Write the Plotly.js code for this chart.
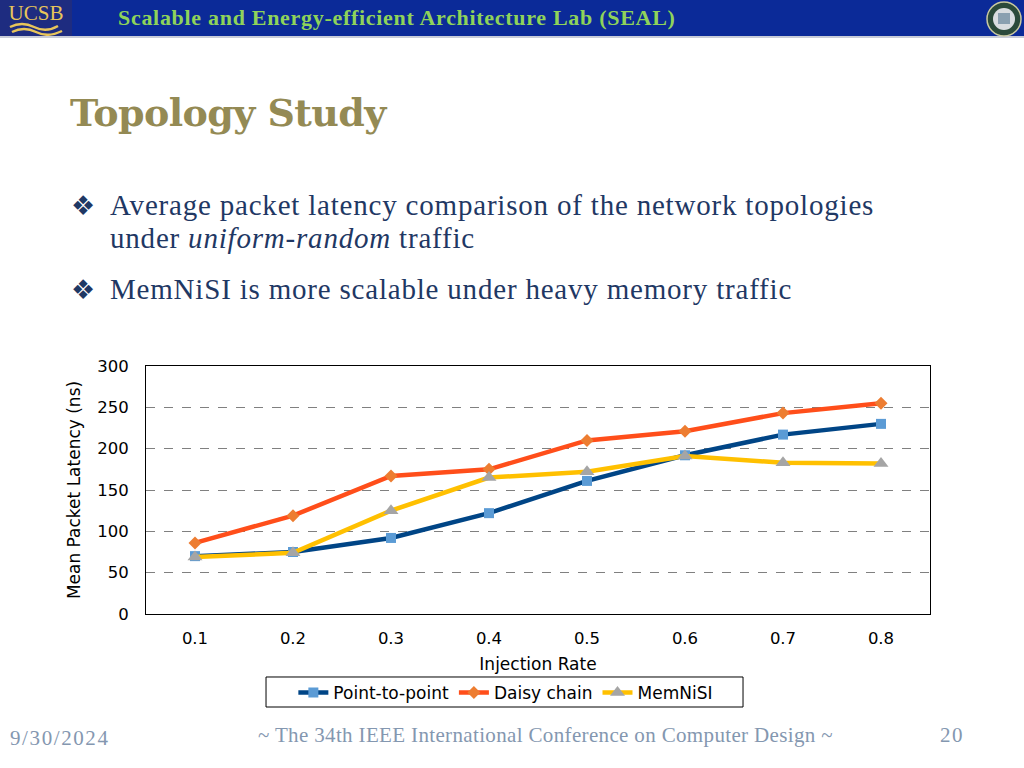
<!DOCTYPE html>
<html>
<head>
<meta charset="utf-8">
<script src="https://cdn.plot.ly/plotly-3.0.1.min.js"></script>
<style>
  html, body { margin:0; padding:0; width:1024px; height:768px; overflow:hidden; background:#ffffff; }
  #chart { position:absolute; left:0; top:0; width:1024px; height:768px; }
  .ov { position:absolute; white-space:nowrap; pointer-events:none; }
  #hdr { position:absolute; left:0; top:0; width:1024px; height:36px; background:#0b2a98; border-bottom:2px solid #c8ccd8; }
  #ucsb { position:absolute; left:0; top:0; width:72px; height:36px; background:#1e2c80; }
  #hdrtxt { left:118px; top:5px; font-family:"Liberation Serif", serif; font-weight:bold; font-size:22px; letter-spacing:0.7px; color:#8fd35a; }
  #title { left:70px; top:90px; font-family:"DejaVu Serif", serif; font-weight:bold; font-size:38px; color:#948a54; letter-spacing:-0.6px; }
  .bul { font-family:"Liberation Serif", serif; font-size:29px; letter-spacing:0.8px; color:#1f3864; }
  .dia { font-family:"DejaVu Sans", sans-serif; font-size:27px; color:#1f3864; }
  .foot { font-family:"Liberation Serif", serif; font-size:21px; color:#8497b0; }
</style>
</head>
<body>
<div id="chart"></div>
<div id="hdr"></div>
<div id="ucsb">
  <svg width="72" height="36" viewBox="0 0 72 36">
    <text x="36" y="20" text-anchor="middle" font-family="Liberation Serif" font-size="21" fill="#e8c55a">UCSB</text>
    <path d="M10 27 Q22 21 34 27 T58 26" stroke="#e8c55a" stroke-width="2.5" fill="none"/>
    <path d="M12 32 Q24 26 36 32 T62 31" stroke="#e8c55a" stroke-width="2.5" fill="none"/>
  </svg>
</div>
<svg class="ov" style="left:986px;top:0px" width="36" height="40" viewBox="0 0 36 40">
  <circle cx="18" cy="19" r="17" fill="#2b4a3a" stroke="#c9c9a0" stroke-width="1.5"/>
  <circle cx="18" cy="19" r="11" fill="#d9dde0"/>
  <rect x="12" y="13" width="12" height="11" fill="#8aa0b0"/>
</svg>
<div class="ov" id="hdrtxt">Scalable and Energy-efficient Architecture Lab (SEAL)</div>
<div class="ov" id="title">Topology Study</div>

<div class="ov dia" style="left:71px;top:190px">❖</div>
<div class="ov bul" style="left:110px;top:189px">Average packet latency comparison of the network topologies</div>
<div class="ov bul" style="left:110px;top:222px">under <i>uniform-random</i> traffic</div>
<div class="ov dia" style="left:71px;top:274px">❖</div>
<div class="ov bul" style="left:110px;top:273px">MemNiSI is more scalable under heavy memory traffic</div>

<div class="ov foot" style="left:10px;top:726px;letter-spacing:1.6px">9/30/2024</div>
<div class="ov foot" style="left:258px;top:723px;letter-spacing:0.35px">~ The 34th IEEE International Conference on Computer Design ~</div>
<div class="ov foot" style="left:940px;top:723px;letter-spacing:1.5px">20</div>

<script>
const categories = ["0.1", "0.2", "0.3", "0.4", "0.5", "0.6", "0.7", "0.8"];
const pointToPoint = [70, 75, 92, 122, 161, 192, 217, 230];
const daisyChain   = [86, 119, 167, 175, 210, 221, 243, 255];
const memNiSI      = [69, 74, 125, 165, 172, 191, 183, 182];
const yTicks = [0, 50, 100, 150, 200, 250, 300];

const family = "DejaVu Sans, Verdana, sans-serif";
const tickFont = {family: family, size: 16.5, color: "#000000"};
const titleFont = {family: family, size: 17, color: "#000000"};

const traces = [
  {name: "Point-to-point", x: categories, y: pointToPoint, type: "scatter", mode: "lines+markers",
   line: {color: "#004586", width: 4.5}, marker: {symbol: "square", size: 10, color: "#5b9bd5"}},
  {name: "Daisy chain", x: categories, y: daisyChain, type: "scatter", mode: "lines+markers",
   line: {color: "#ff4e1a", width: 4.5}, marker: {symbol: "diamond", size: 10, color: "#ed7d31"}},
  {name: "MemNiSI", x: categories, y: memNiSI, type: "scatter", mode: "lines+markers",
   line: {color: "#ffc000", width: 4.5}, marker: {symbol: "triangle-up", size: 13, color: "#a5a5a5"}}
];

const layout = {
  width: 1024, height: 768,
  margin: {l: 146, r: 94, t: 366, b: 154, pad: 0},
  paper_bgcolor: "rgba(0,0,0,0)", plot_bgcolor: "#ffffff",
  font: titleFont,
  showlegend: true,
  legend: {orientation: "h", x: 0.459, xanchor: "center", y: -0.318, yanchor: "middle",
           borderwidth: 0, font: {family: family, size: 17, color: "#000"},
           itemwidth: 30, tracegroupgap: 0, bgcolor: "rgba(0,0,0,0)"},
  shapes: [{type: "rect", xref: "paper", yref: "paper", x0: 0.1531, x1: 0.7615, y0: -0.375, y1: -0.254,
            line: {color: "#000000", width: 1}, fillcolor: "rgba(0,0,0,0)", layer: "below"}],
  xaxis: {type: "category", range: [-0.5, 7.5], showgrid: false, zeroline: false,
          showline: true, mirror: true, linecolor: "#000000", linewidth: 1,
          ticks: "", ticklabelstandoff: 9, tickfont: tickFont,
          title: {text: "Injection Rate", font: titleFont, standoff: 11}},
  yaxis: {range: [0, 300], tickvals: yTicks, showgrid: true, gridcolor: "#808080", griddash: "dash", gridwidth: 1,
          zeroline: false, showline: true, mirror: true, linecolor: "#000000", linewidth: 1,
          ticks: "", ticklabelstandoff: 13, tickfont: tickFont,
          title: {text: "Mean Packet Latency (ns)", font: titleFont, standoff: 12}}
};

Plotly.newPlot("chart", traces, layout, {displayModeBar: false, staticPlot: true});
</script>
</body>
</html>
